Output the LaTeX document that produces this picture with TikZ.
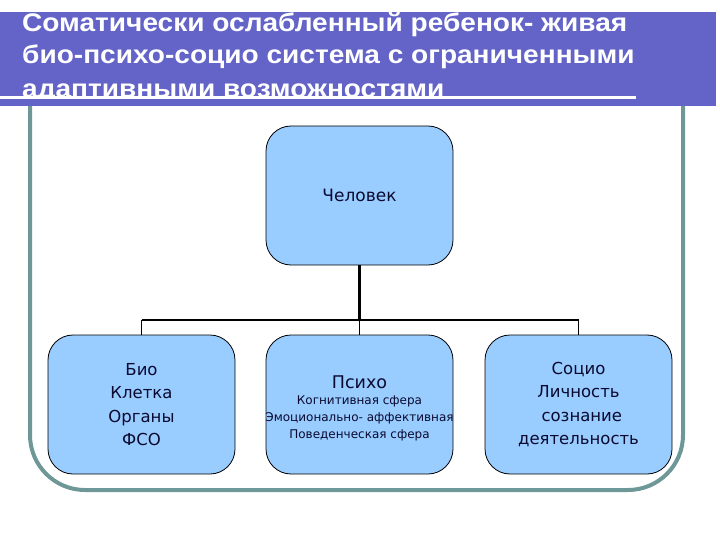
\documentclass[tikz,border=0pt]{standalone}
\usepackage{fontspec}
\setmainfont{DejaVu Sans}
\newfontfamily\titlefont[FakeStretch=1.1]{Liberation Sans}
\definecolor{banner}{HTML}{6464C8}
\definecolor{framec}{HTML}{6E9898}
\definecolor{boxfill}{HTML}{99CCFF}
\definecolor{txt}{HTML}{0A0A30}
\tikzset{
  block/.style={draw=black, line width=0.8pt, fill=boxfill, rounded corners=25pt,
    minimum width=187pt, minimum height=139pt, inner sep=0pt, align=center,
    text=txt},
  bigtext/.style={font=\fontsize{16.5}{23.5}\selectfont},
  small/.style={font=\fontsize{12}{17}\selectfont},
  titletext/.style={anchor=base west, inner sep=0pt, text=white,
    font=\titlefont\bfseries\fontsize{25.5}{32}\selectfont},
  link/.style={draw=black, line width=1.4pt},
}
\begin{document}
\begin{tikzpicture}[x=1pt,y=-1pt]
\useasboundingbox (0,0) rectangle (720,540);
% frame
\draw[framec, line width=4pt, rounded corners=55pt] (30,106) -- (30,490) -- (683,490) -- (683,106);
% banner
\fill[banner] (0,12) rectangle (716,106);
\begin{scope}
\clip (0,12) rectangle (716,97);
\node[titletext] (t1) at (22,32) {Соматически ослабленный ребенок- живая};
\node[titletext] (t2) at (22,64) {био-психо-социо система с ограниченными};
\node[titletext] (t3) at (22,98) {адаптивными возможностями};
\end{scope}
\draw[white, line width=3pt] (0,97.5) -- (636,97.5);
% boxes
\node[block, font=\fontsize{17}{20}\selectfont] (chel) at (359.5,195.5) {Человек};
\node[block, bigtext] (bio) at (141.5,404.5) {Био\\Клетка\\Органы\\ФСО};
\node[block] (psy) at (359.5,404.5) {};
\node[text=txt, inner sep=0pt, anchor=base, font=\fontsize{17.5}{20}\selectfont] (psyh) at (359.5,388) {Психо};
\node[small, text=txt, inner sep=0pt, align=center, anchor=north] (psyt) at (359.5,396) {Когнитивная сфера\\Эмоционально- аффективная\\Поведенческая сфера};
\node[block, bigtext] (soc) at (578.5,404.5) {Социо\\Личность\\\hspace*{0.4em}сознание\\деятельность};
% connectors
\coordinate (j) at (359.5,320);
\coordinate (jl) at (141.5,320);
\coordinate (jr) at (578.5,320);
\draw[line width=2.2pt] (chel.south) -- (j);
\draw[link] (jl) -- (jr);
\draw[link] (jl) -- (bio.north);
\draw[link] (j) -- (psy.north);
\draw[link] (jr) -- (soc.north);
\end{tikzpicture}
\end{document}
